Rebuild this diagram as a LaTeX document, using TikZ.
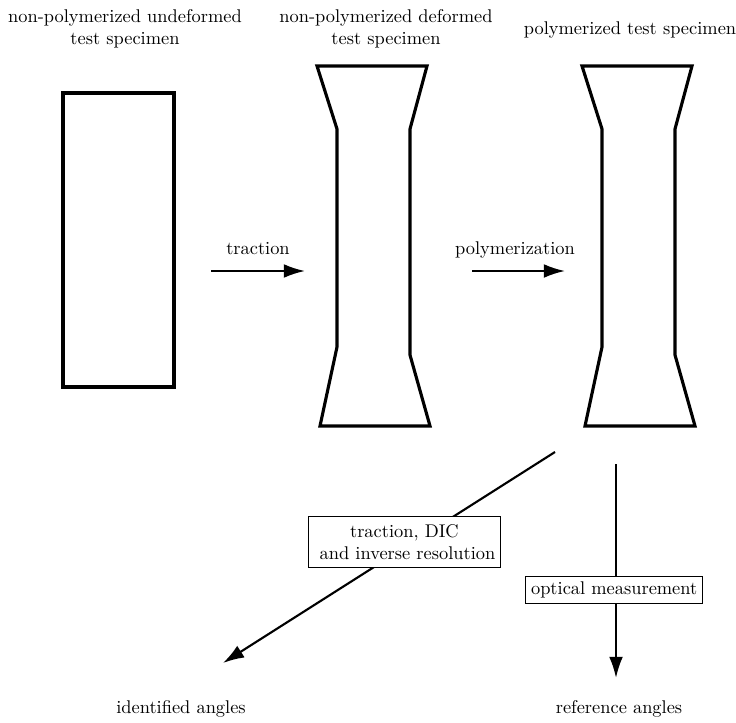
\documentclass[tikz,border=0pt]{standalone}
\usetikzlibrary{arrows.meta}
\begin{document}
\begin{tikzpicture}[x=0.5435pt,y=-0.5435pt,
 spec/.style={line width=1.7pt, line join=miter},
 arr/.style={line width=1.15pt,-{Latex[length=11.5pt,width=7.5pt]}},
 lbl/.style={align=center, inner sep=0pt},
 box/.style={draw, line width=0.5pt, fill=white, align=center, inner sep=3pt}]
\useasboundingbox (0,0) rectangle (736,722);
% top labels
\node[lbl] (L1) at (125,29) {non-polymerized undeformed\\test specimen};
\node[lbl] (L2) at (386,29) {non-polymerized deformed\\test specimen};
\node[lbl] (L3) at (630,30) {polymerized test specimen};
% specimens
\draw[spec] (63,93) rectangle (174,387);
\draw[spec] (317,66) -- (427,66) -- (410,129) -- (410,355) -- (430,426) -- (320,426) -- (337,347) -- (337,129) -- cycle;
\draw[spec] (582,66) -- (692,66) -- (675,129) -- (675,355) -- (695,426) -- (585,426) -- (602,347) -- (602,129) -- cycle;
% process arrows
\coordinate (t1) at (211,271);
\coordinate (t2) at (305,271);
\draw[arr] (t1) -- (t2);
\node[lbl, anchor=base] (trac) at (258,255) {traction};
\coordinate (p1) at (472,271);
\coordinate (p2) at (565,271);
\draw[arr] (p1) -- (p2);
\node[lbl, anchor=base] (poly) at (515,255) {polymerization};
% bottom arrows
\coordinate (d1) at (555,452);
\coordinate (d2) at (223,663);
\draw[arr] (d1) -- node[box, inner ysep=4.3pt, pos=0.4535, yshift=3pt] (dic) {traction, DIC\\\ and inverse resolution} (d2);
\coordinate (v1) at (616,464);
\coordinate (v2) at (616,678);
\draw[arr] (v1) -- node[box, pos=0.589, xshift=-1pt] (opt) {optical measurement} (v2);
% results
\node[lbl, anchor=base] (ida) at (181,713) {identified angles};
\node[lbl, anchor=base] (refa) at (619,713) {reference angles};
\end{tikzpicture}
\end{document}
